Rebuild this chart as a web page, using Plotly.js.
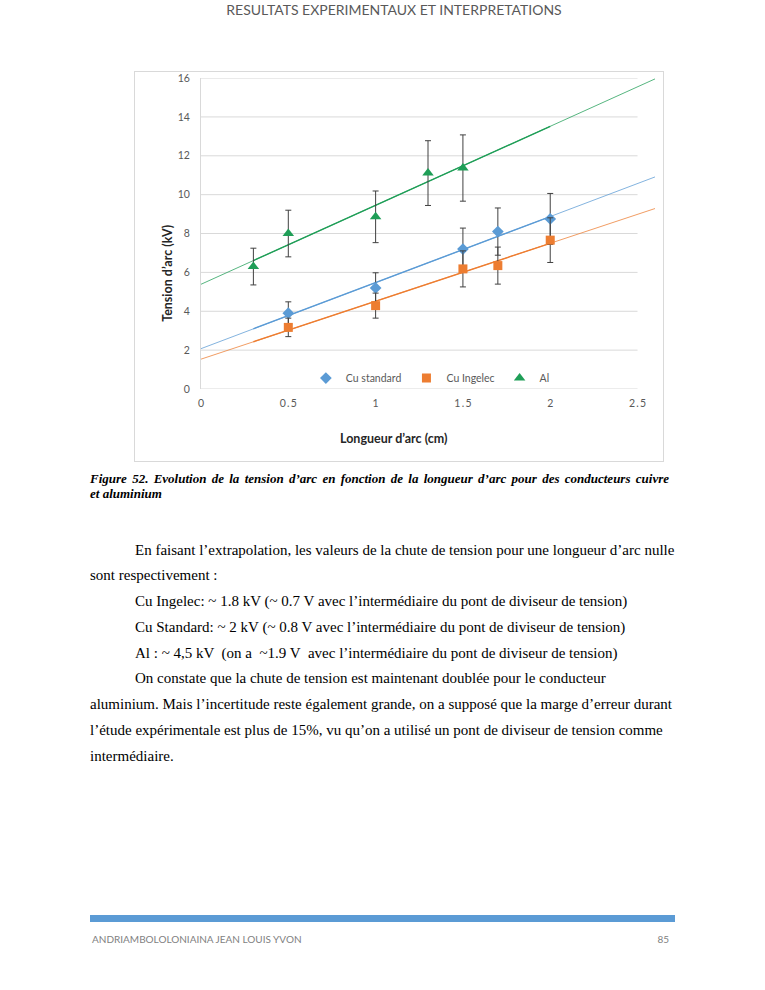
<!DOCTYPE html>
<html>
<head>
<meta charset="utf-8">
<script src="https://cdn.plot.ly/plotly-3.0.1.min.js"></script>
<style>
  html, body { margin:0; padding:0; background:#fff; }
  #page { position:relative; width:765px; height:990px; overflow:hidden; background:#fff; }
  .hdr { position:absolute; top:0; left:0; width:788px; text-align:center; font-family:Lato, "Open Sans", sans-serif; font-size:14px; color:#595959; line-height:20px; }
  #chartbox { position:absolute; left:134px; top:71px; width:528px; height:389px; border:1px solid #d9d9d9; }
  #chart { width:528px; height:389px; }
  .cap { position:absolute; left:90px; width:579px; font-family:"Liberation Serif", "Times New Roman", serif; font-weight:bold; font-style:italic; font-size:13px; line-height:15px; color:#000; white-space:nowrap; }
  .ln { position:absolute; font-family:"Liberation Serif", "Times New Roman", serif; font-size:15px; line-height:20px; color:#000; white-space:pre; }
  .just { white-space:nowrap; text-align:justify; text-align-last:justify; }
  .bar { position:absolute; left:90px; top:915px; width:585px; height:7px; background:#5b9bd5; }
  .ftr { position:absolute; top:932px; font-family:Lato, "Open Sans", sans-serif; font-size:10px; color:#7f7f7f; line-height:14px; }
</style>
</head>
<body>
<div id="page">
  <div class="hdr">RESULTATS EXPERIMENTAUX ET INTERPRETATIONS</div>
  <div id="chartbox"><div id="chart"></div></div>

  <div class="cap just" style="top:471px;">Figure 52. Evolution de la tension d’arc en fonction de la longueur d’arc pour des conducteurs cuivre</div>
  <div class="cap" style="top:486px;">et aluminium</div>

  <div class="ln just" style="top:540px; left:135px; width:537px;">En faisant l’extrapolation, les valeurs de la chute de tension pour une longueur d’arc nulle</div>
  <div class="ln" style="top:565px; left:90px;">sont respectivement :</div>
  <div class="ln" style="top:591px; left:135px;">Cu Ingelec: ~ 1.8 kV (~ 0.7 V avec l’intermédiaire du pont de diviseur de tension)</div>
  <div class="ln" style="top:617px; left:135px;">Cu Standard: ~ 2 kV (~ 0.8 V avec l’intermédiaire du pont de diviseur de tension)</div>
  <div class="ln" style="top:643px; left:135px;">Al : ~ 4,5 kV  (on a  ~1.9 V  avec l’intermédiaire du pont de diviseur de tension)</div>
  <div class="ln" style="top:668px; left:135px;">On constate que la chute de tension est maintenant doublée pour le conducteur</div>
  <div class="ln just" style="top:694px; left:90px; width:582px;">aluminium. Mais l’incertitude reste également grande, on a supposé que la marge d’erreur durant</div>
  <div class="ln" style="top:720px; left:90px;">l’étude expérimentale est plus de 15%, vu qu’on a utilisé un pont de diviseur de tension comme</div>
  <div class="ln" style="top:746px; left:90px;">intermédiaire.</div>

  <div class="bar"></div>
  <div class="ftr" style="left:92px;">ANDRIAMBOLOLONIAINA JEAN LOUIS YVON</div>
  <div class="ftr" style="left:655px; width:14px; text-align:right;">85</div>
</div>

<script>
// ---- data ----
const seriesNames = ['Cu standard', 'Cu Ingelec', 'Al'];
const cuStdX = [0.5, 1.0, 1.5, 1.7, 2.0];
const cuStdY = [3.9, 5.2, 7.2, 8.1, 8.75];
const cuIngX = [0.5, 1.0, 1.5, 1.7, 2.0];
const cuIngY = [3.17, 4.29, 6.18, 6.35, 7.66];
const alX = [0.3, 0.5, 1.0, 1.3, 1.5];
const alY = [6.3, 8.0, 8.86, 11.11, 11.37];
const errorPercent = 15;              // error bars: ±15 %
const trendForecast = [0, 2.6];       // trendline extrapolated range (cm)
const xTickVals = [0, 0.5, 1, 1.5, 2, 2.5];
const xTickLabels = ['0', '0.5', '1', '1.5', '2', '2.5'];
const yTickVals = [0, 2, 4, 6, 8, 10, 12, 14, 16];
const yTickLabels = ['0', '2', '4', '6', '8', '10', '12', '14', '16'];
const xTitle = 'Longueur d’arc (cm)';
const yTitle = 'Tension d’arc (kV)';

// ---- styles ----
const colors = ['#5b9bd5', '#ed7d31', '#1f9e57'];
const symbols = ['diamond', 'square', 'triangle-up'];
const sizes = [9, 9, 10];
const FONT = 'Lato, "Open Sans", sans-serif';

function linfit(xs, ys) {
  const n = xs.length;
  const mx = xs.reduce((a, b) => a + b, 0) / n;
  const my = ys.reduce((a, b) => a + b, 0) / n;
  let sxy = 0, sxx = 0;
  for (let i = 0; i < n; i++) { sxy += (xs[i] - mx) * (ys[i] - my); sxx += (xs[i] - mx) ** 2; }
  const m = sxy / sxx;
  return { m: m, b: my - m * mx };
}

const allSeries = [[cuStdX, cuStdY], [cuIngX, cuIngY], [alX, alY]];
const allX = [].concat(cuStdX, cuIngX, alX);
const dataMinX = Math.min.apply(null, allX);
const dataMaxX = Math.max.apply(null, allX);

const traces = [];
// trendlines first (beneath markers)
allSeries.forEach((s, i) => {
  const f = linfit(s[0], s[1]);
  traces.push({
    x: trendForecast, y: trendForecast.map(v => f.m * v + f.b),
    mode: 'lines', line: { color: colors[i], width: 1 }, opacity: 0.75,
    showlegend: false, hoverinfo: 'skip'
  });
  const seg = [dataMinX, dataMaxX];
  traces.push({
    x: seg, y: seg.map(v => f.m * v + f.b),
    mode: 'lines', line: { color: colors[i], width: 1.4 },
    showlegend: false, hoverinfo: 'skip'
  });
});
allSeries.forEach((s, i) => {
  traces.push({
    x: s[0], y: s[1], name: seriesNames[i], mode: 'markers',
    marker: { color: colors[i], symbol: symbols[i], size: sizes[i], line: { width: 0 } },
    error_y: { type: 'percent', value: errorPercent, color: '#404040', thickness: 1, width: 3 },
    cliponaxis: false
  });
});

const yMax = yTickVals[yTickVals.length - 1];
const shapes = yTickVals.map(v => ({
  type: 'line', xref: 'x', yref: 'y', x0: xTickVals[0], x1: xTickVals[xTickVals.length - 1], y0: v, y1: v,
  line: { color: '#d9d9d9', width: 1 }, layer: 'below'
}));

const layout = {
  width: 528, height: 389,
  margin: { l: 66, r: 8, t: 6, b: 72, pad: 0 },
  paper_bgcolor: '#ffffff', plot_bgcolor: '#ffffff',
  font: { family: FONT, size: 11, color: '#595959' },
  showlegend: true,
  legend: {
    orientation: 'h', x: 0.231, y: 0.035, xanchor: 'left', yanchor: 'middle',
    bgcolor: 'rgba(0,0,0,0)', font: { family: FONT, size: 10.5, color: '#595959' },
    itemwidth: 30, tracegroupgap: 0
  },
  xaxis: {
    range: trendForecast, showgrid: false, zeroline: false, showline: false,
    tickmode: 'array', tickvals: xTickVals,
    ticktext: xTickLabels.map(t => t.split('').join('\u2009')),
    ticks: '', ticklabelstandoff: 6,
    tickfont: { family: FONT, size: 10.5, color: '#595959' }
  },
  yaxis: {
    range: [yTickVals[0], yMax * 1.0002], showgrid: false, zeroline: false,
    showline: true, linecolor: '#d9d9d9', linewidth: 1,
    tickmode: 'array', tickvals: yTickVals, ticktext: yTickLabels,
    ticks: '', ticklabelstandoff: 8, ticklabeloverflow: 'allow',
    tickfont: { family: FONT, size: 10.5, color: '#595959' }
  },
  shapes: shapes,
  annotations: [
    { text: '<b>' + xTitle + '</b>', xref: 'paper', yref: 'paper', x: 0.425, y: -0.158,
      xanchor: 'center', yanchor: 'middle', showarrow: false,
      font: { family: FONT, size: 12.5, color: '#262626' } },
    { text: '<b>' + yTitle + '</b>', xref: 'paper', yref: 'paper', x: -0.073, y: 0.373,
      xanchor: 'center', yanchor: 'middle', textangle: -90, showarrow: false,
      font: { family: FONT, size: 12.5, color: '#262626' } }
  ]
};

Plotly.newPlot('chart', traces, layout, { displayModeBar: false, staticPlot: true });
</script>
</body>
</html>
